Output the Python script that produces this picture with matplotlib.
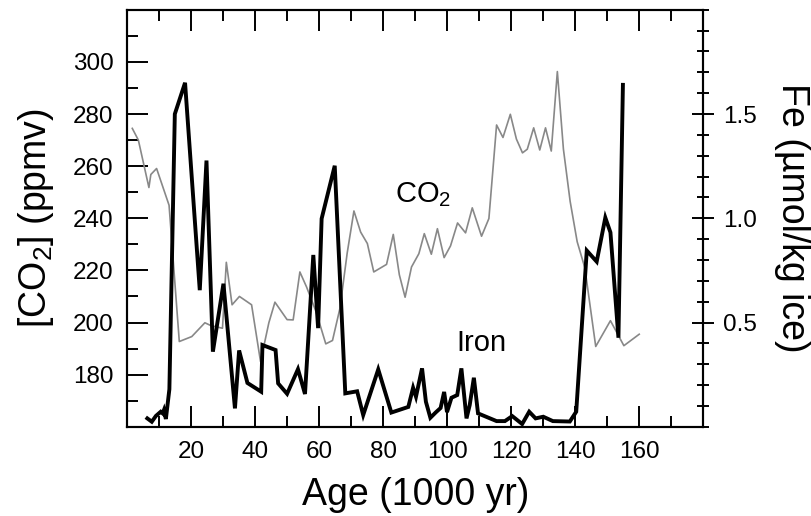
import matplotlib
matplotlib.use("Agg")
import matplotlib.pyplot as plt
from matplotlib.ticker import MultipleLocator

plt.rcParams['font.family'] = ['Liberation Sans', 'DejaVu Sans']
plt.rcParams['mathtext.default'] = 'regular'

# CO2 record (ppmv) vs age (1000 yr)
co2_age = [1.5, 3.4, 6.7, 7.3, 9.1, 13.0, 16.2, 20.1, 24.2, 26.1,
           29.7, 30.9, 32.7, 35.0, 38.8, 41.6, 44.2, 46.1, 49.9, 51.8,
           53.9, 56.0, 59.0, 62.0, 64.1, 66.4, 68.7, 70.8, 72.9, 75.0,
           77.0, 81.0, 83.1, 85.0, 86.8, 88.8, 91.1, 92.8, 95.0, 96.9,
           99.0, 101.0, 103.2, 105.7, 107.8, 110.7, 113.0, 115.4, 117.4, 119.7,
           121.6, 123.5, 125.0, 127.0, 128.9, 130.7, 132.5, 134.4, 136.3, 138.4,
           140.6, 143.0, 146.4, 151.0, 155.2, 160.0]
co2_ppm = [274.5, 270.0, 251.8, 256.8, 259.1, 245.0, 192.7, 194.6, 199.9, 198.8,
           197.8, 223.1, 206.8, 210.0, 206.8, 185.0, 199.9, 207.8, 201.1, 201.0,
           219.4, 213.6, 204.0, 191.8, 193.1, 205.3, 226.7, 242.8, 234.7, 230.3,
           219.4, 222.3, 233.8, 218.3, 209.7, 221.3, 226.4, 234.1, 226.2, 236.0,
           224.9, 229.4, 238.2, 234.4, 244.0, 233.1, 239.9, 275.8, 271.0, 279.9,
           270.4, 265.1, 266.5, 274.7, 266.2, 274.7, 265.8, 296.3, 266.5, 246.5,
           231.0, 221.0, 190.8, 200.7, 191.1, 195.5]

# iron record (umol/kg ice)
fe_age = [6.2, 7.6, 8.9, 10.4, 11.0, 11.4, 12.0, 13.1, 14.8, 18.0,
          22.6, 24.7, 26.7, 30.0, 33.6, 34.9, 37.5, 41.8, 42.2, 46.3,
          47.1, 49.9, 53.3, 55.5, 58.1, 59.6, 60.7, 64.8, 68.1, 71.8,
          73.7, 78.4, 82.5, 87.8, 89.3, 90.2, 92.1, 93.3, 94.7, 96.4,
          97.9, 99.0, 99.9, 101.3, 103.1, 104.4, 106.0, 107.0, 108.3, 109.6,
          115.4, 118.0, 120.3, 123.4, 125.6, 127.6, 130.0, 133.0, 138.3, 140.3,
          143.6, 146.7, 149.4, 151.0, 153.5, 154.9]
fe_val = [0.04, 0.024, 0.052, 0.072, 0.064, 0.08, 0.037, 0.18, 1.50, 1.65,
          0.655, 1.277, 0.36, 0.686, 0.088, 0.366, 0.21, 0.168, 0.392, 0.368,
          0.208, 0.158, 0.276, 0.157, 0.824, 0.473, 0.998, 1.252, 0.16, 0.17,
          0.056, 0.275, 0.068, 0.095, 0.187, 0.144, 0.28, 0.12, 0.043, 0.069,
          0.09, 0.167, 0.07, 0.139, 0.152, 0.28, 0.04, 0.104, 0.235, 0.064,
          0.027, 0.027, 0.051, 0.013, 0.072, 0.04, 0.048, 0.027, 0.025, 0.072,
          0.845, 0.792, 1.003, 0.932, 0.427, 1.64]

fig = plt.figure(figsize=(8.12, 5.16), dpi=100)
ax = fig.add_axes([0.157, 0.173, 0.709, 0.808])
ax2 = ax.twinx()

ax.plot(co2_age, co2_ppm, color='#888888', lw=1.2)
ax2.plot(fe_age, fe_val, color='black', lw=2.8, solid_joinstyle='miter')

ax.set_xlim(0, 180)
ax.set_ylim(160, 320)
ax2.set_ylim(0, 2.0)

# x axis: labels only 20..160
ax.set_xticks([20, 40, 60, 80, 100, 120, 140, 160])
ax.xaxis.set_minor_locator(MultipleLocator(10))
ax.set_yticks([180, 200, 220, 240, 260, 280, 300])
ax.yaxis.set_minor_locator(MultipleLocator(10))
ax2.set_yticks([0.5, 1.0, 1.5])
ax2.set_yticklabels(['0.5', '1.0', '1.5'])
ax2.yaxis.set_minor_locator(MultipleLocator(0.1))

ax.tick_params(which='both', direction='in', top=True, right=False,
               width=1.4, labelsize=17.5, pad=10)
ax.tick_params(which='major', length=15)
ax.tick_params(which='minor', length=7.8)
ax2.tick_params(which='both', direction='inout', left=False, width=1.4,
                labelsize=17.5, pad=6)
ax2.tick_params(which='major', length=16.5)
ax2.tick_params(which='minor', length=8.5)

for a in (ax, ax2):
    for s in a.spines.values():
        s.set_linewidth(1.5)

ax.set_xlabel('Age (1000 yr)', fontsize=27, labelpad=10)
ax.set_ylabel('[CO$_2$] (ppmv)', fontsize=27, labelpad=12)
ax2.set_ylabel('Fe (µmol/kg ice)', fontsize=27, rotation=270, va='bottom', labelpad=12)

ax.text(83.6, 246.3, 'CO$_2$', fontsize=21, va='baseline', ha='left')
ax.text(102.9, 189.2, 'Iron', fontsize=21, va='baseline', ha='left')

fig.savefig('out.png', dpi=100)
